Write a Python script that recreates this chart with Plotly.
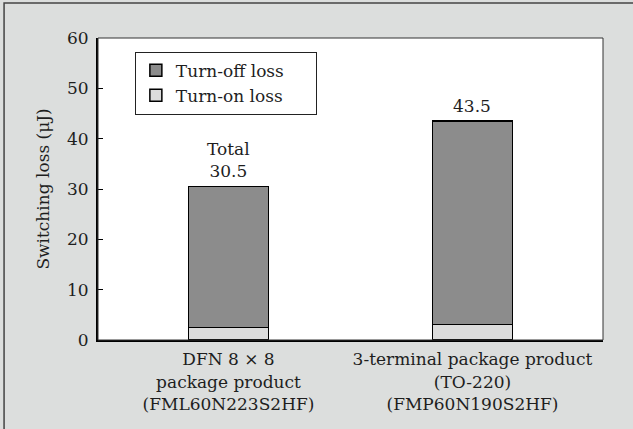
import plotly.graph_objects as go

categories = ["DFN 8 × 8<br>package product<br>(FML60N223S2HF)",
              "3-terminal package product<br>(TO-220)<br>(FMP60N190S2HF)"]
series_names = ["Turn-on loss", "Turn-off loss"]
turn_on = [2.5, 3.1]
turn_off = [28.0, 40.4]
totals = [30.5, 43.5]
total_labels = ["Total<br>30.5", "43.5"]

FONT = "DejaVu Serif"
FS = 17
BG = "#dcdedd"
TXT = "#1e1e1e"
PAD = "\u00a0" * 5

fig = go.Figure()
fig.add_trace(go.Bar(x=[0, 1], y=turn_on, name=series_names[0] + PAD, width=0.326,
                     marker=dict(color="#dcdcdc", line=dict(color="black", width=1.5))))
fig.add_trace(go.Bar(x=[0, 1], y=turn_off, name=series_names[1] + PAD, width=0.326,
                     marker=dict(color="#8c8c8c", line=dict(color="black", width=1.5))))

for i, (t, lab) in enumerate(zip(totals, total_labels)):
    fig.add_annotation(x=i, y=t, text=lab, showarrow=False, yanchor="bottom", yshift=3,
                       font=dict(family=FONT, size=FS, color=TXT))

# outer frame (top/left edges visible)
fig.add_shape(type="rect", xref="paper", yref="paper", x0=-0.186, y0=-1, x1=2, y1=1.116,
              line=dict(color="#444", width=1.5), fillcolor="rgba(0,0,0,0)", layer="below")
# plot area frame (thin top/right)
fig.add_shape(type="rect", xref="paper", yref="paper", x0=0, y0=0, x1=1, y1=1,
              line=dict(color="#333", width=1), fillcolor="rgba(0,0,0,0)")

fig.update_layout(
    width=633, height=429,
    margin=dict(l=98, r=30, t=38, b=89),
    paper_bgcolor=BG, plot_bgcolor="white",
    barmode="stack",
    font=dict(family=FONT, size=FS, color=TXT),
    showlegend=True,
    legend=dict(x=0.073, y=0.955, xanchor="left", yanchor="top", traceorder="reversed",
                bgcolor="white", bordercolor="#222", borderwidth=1,
                font=dict(family=FONT, size=FS, color=TXT),
                itemwidth=30, tracegroupgap=0),
    xaxis=dict(range=[-0.5348, 1.5349], tickvals=[0, 1], ticktext=categories, showgrid=False,
               showline=True, linecolor="black", linewidth=2, ticks="", zeroline=False,
               automargin=False, ticklabelstandoff=3,
               tickfont=dict(family=FONT, size=FS, color=TXT)),
    yaxis=dict(range=[0, 60], dtick=10, showgrid=False, showline=True, linecolor="black",
               linewidth=2, ticks="inside", ticklen=5, tickwidth=1, tickcolor="black",
               zeroline=False, automargin=False, ticklabelstandoff=4,
               title=dict(text="Switching loss (μJ)", standoff=13,
                          font=dict(family=FONT, size=FS, color=TXT)),
               tickfont=dict(family=FONT, size=FS, color=TXT)),
)

fig.write_html("out.html", config={"displayModeBar": False},
               post_script="document.body.style.margin='0';"
                           "document.body.style.background='" + BG + "';")
